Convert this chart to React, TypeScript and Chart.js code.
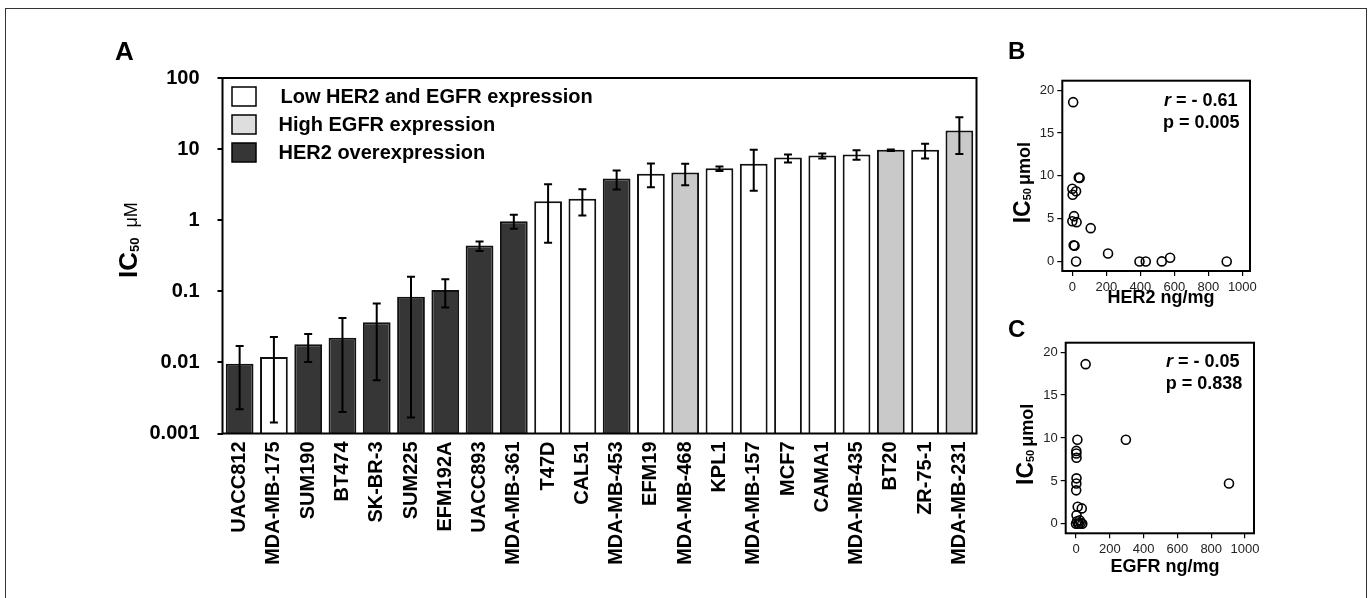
import React, { useEffect, useRef } from "react";
import { Chart, registerables } from "chart.js";
Chart.register(...registerables);

const FONT = "'Liberation Sans', Arial, Helvetica, sans-serif";

// ---------- Panel A data ----------
const CELL_LINES = [
  "UACC812", "MDA-MB-175", "SUM190", "BT474", "SK-BR-3", "SUM225", "EFM192A",
  "UACC893", "MDA-MB-361", "T47D", "CAL51", "MDA-MB-453", "EFM19", "MDA-MB-468",
  "KPL1", "MDA-MB-157", "MCF7", "CAMA1", "MDA-MB-435", "BT20", "ZR-75-1", "MDA-MB-231",
];
const GROUPS = [
  "her2", "low", "her2", "her2", "her2", "her2", "her2",
  "her2", "her2", "low", "low", "her2", "low", "egfr",
  "low", "low", "low", "low", "low", "egfr", "low", "egfr",
];
const IC50 = [
  0.0096, 0.0119, 0.018, 0.0223, 0.0366, 0.084, 0.104, 0.44, 0.97, 1.85, 2.0,
  3.85, 4.5, 4.68, 5.4, 6.2, 7.6, 8.1, 8.4, 9.8, 9.8, 18.2,
];
const ERR_HI = [
  0.017, 0.0228, 0.025, 0.042, 0.0676, 0.16, 0.148, 0.5, 1.19, 3.2, 2.73,
  5.0, 6.25, 6.2, 5.7, 9.8, 8.4, 8.65, 9.6, 9.9, 11.9, 28,
];
const ERR_LO = [
  0.0022, 0.00143, 0.0101, 0.002, 0.0056, 0.00168, 0.059, 0.37, 0.76, 0.48, 1.16,
  2.7, 2.9, 3.1, 4.94, 2.6, 6.5, 7.4, 7.1, 9.4, 7.4, 8.5,
];
const LOG_TICKS = [0.001, 0.01, 0.1, 1, 10, 100];
const LOG_TICK_LABELS = ["0.001", "0.01", "0.1", "1", "10", "100"];
const LEGEND_GROUPS = ["low", "egfr", "her2"];
const LEGEND_LABELS = ["Low HER2 and EGFR expression", "High EGFR expression", "HER2 overexpression"];
const GROUP_FILL: Record<string, string> = { low: "#ffffff", egfr: "#c9c9c9", her2: "#363636" };
const LEGEND_FILL: Record<string, string> = { low: "#ffffff", egfr: "#dedede", her2: "#363636" };

// ---------- Panel B data (HER2 vs IC50) ----------
const HER2_X = [5, 0, 2, 22, 38, 43, 10, 0, 25, 108, 8, 13, 22, 210, 395, 432, 526, 575, 908];
const HER2_Y = [18.6, 8.5, 7.8, 8.2, 9.8, 9.75, 5.3, 4.7, 4.6, 3.9, 1.9, 1.85, 0.0, 0.95, 0.01, 0.01, 0.02, 0.44, 0.01];
const STATS_B = { r: "- 0.61", p: "0.005" };

// ---------- Panel C data (EGFR vs IC50) ----------
const EGFR_X = [57, 8, 295, 2, 2, 3, 3, 2, 1, 905, 10, 34, 3, 0, 6, 16, 22, 37, 28, 12];
const EGFR_Y = [18.6, 9.8, 9.8, 8.5, 8.2, 7.7, 5.3, 4.7, 3.9, 4.7, 2.0, 1.8, 1.0, 0.01, 0.3, 0.05, 0.4, 0.02, 0.1, 0.02];
const STATS_C = { r: "- 0.05", p: "0.838" };

const SCATTER_X_TICKS = [0, 200, 400, 600, 800, 1000];
const SCATTER_Y_TICKS = [0, 5, 10, 15, 20];

type Part = { text: string; font: string; dy?: number; gap?: number };

function drawRotated(ctx: CanvasRenderingContext2D, x: number, y: number, parts: Part[]) {
  ctx.save();
  ctx.translate(x, y);
  ctx.rotate(-Math.PI / 2);
  ctx.fillStyle = "#000";
  ctx.textAlign = "left";
  ctx.textBaseline = "alphabetic";
  let cur = 0;
  for (const p of parts) {
    cur += p.gap || 0;
    ctx.font = p.font;
    ctx.fillText(p.text, cur, p.dy || 0);
    cur += ctx.measureText(p.text).width;
  }
  ctx.restore();
}

function PanelA() {
  const ref = useRef<HTMLCanvasElement>(null);
  useEffect(() => {
    const plugin = {
      id: "panelA",
      afterDatasetsDraw(chart: any) {
        const { ctx } = chart;
        const meta = chart.getDatasetMeta(0);
        const ys = chart.scales.y;
        ctx.save();
        ctx.strokeStyle = "#000";
        ctx.lineWidth = 2;
        meta.data.forEach((bar: any, i: number) => {
          const x = bar.x;
          const yh = ys.getPixelForValue(ERR_HI[i]);
          const yl = ys.getPixelForValue(ERR_LO[i]);
          ctx.beginPath();
          ctx.moveTo(x, yh);
          ctx.lineTo(x, yl);
          ctx.moveTo(x - 4, yh);
          ctx.lineTo(x + 4, yh);
          ctx.moveTo(x - 4, yl);
          ctx.lineTo(x + 4, yl);
          ctx.stroke();
        });
        ctx.restore();
      },
      afterDraw(chart: any) {
        const { ctx, chartArea } = chart;
        const { left, top, right, bottom } = chartArea;
        ctx.save();
        ctx.strokeStyle = "#000";
        ctx.lineWidth = 2;
        ctx.strokeRect(left, top, right - left, bottom - top);
        // legend
        LEGEND_GROUPS.forEach((g, i) => {
          const by = top + 9 + i * 28;
          ctx.fillStyle = LEGEND_FILL[g];
          ctx.fillRect(left + 9.5, by, 24, 19);
          ctx.lineWidth = 1.5;
          ctx.strokeStyle = "#000";
          ctx.strokeRect(left + 9.5, by, 24, 19);
          ctx.fillStyle = "#000";
          ctx.font = `bold 20px ${FONT}`;
          ctx.textBaseline = "middle";
          ctx.textAlign = "left";
          ctx.fillText(LEGEND_LABELS[i], left + (i === 0 ? 58 : 56), by + 10.5);
        });
        // panel letter
        ctx.font = `bold 26px ${FONT}`;
        ctx.textBaseline = "alphabetic";
        ctx.fillText("A", 115, 60);
        ctx.restore();
        // y title
        drawRotated(ctx, 137, 278, [
          { text: "IC", font: `bold 26px ${FONT}` },
          { text: "50", font: `bold 13px ${FONT}`, dy: 2 },
          { text: "\u03bcM", font: `18px ${FONT}`, gap: 10 },
        ]);
      },
    };
    const chart = new Chart(ref.current!, {
      type: "bar",
      data: {
        labels: CELL_LINES,
        datasets: [
          {
            data: IC50,
            backgroundColor: GROUPS.map((g) => GROUP_FILL[g]),
            borderColor: "#111",
            borderWidth: 2,
            barPercentage: 0.9,
            categoryPercentage: 0.9,
          },
        ],
      },
      options: {
        responsive: false,
        animation: false,
        layout: { padding: { top: 78, right: 23.5, bottom: 14.5, left: 0 } },
        plugins: { legend: { display: false }, tooltip: { enabled: false } },
        scales: {
          x: {
            type: "category",
            grid: { display: false, drawTicks: false },
            border: { display: false },
            ticks: {
              minRotation: 90,
              maxRotation: 90,
              autoSkip: false,
              padding: 8,
              color: "#000",
              font: { family: FONT, size: 20, weight: "bold" },
            },
            afterFit: (s: any) => {
              s.height = 150;
            },
          },
          y: {
            type: "logarithmic",
            min: 0.001,
            max: 100,
            border: { display: false },
            grid: { display: true, drawOnChartArea: false, drawTicks: true, tickLength: 5, color: "#000", lineWidth: 2 },
            ticks: {
              padding: 18,
              color: "#000",
              font: { family: FONT, size: 20, weight: "bold" },
              callback: (v: any) => {
                const idx = LOG_TICKS.findIndex((t) => Math.abs(Math.log10(t) - Math.log10(v)) < 1e-6);
                return idx >= 0 ? LOG_TICK_LABELS[idx] : "";
              },
            },
            afterBuildTicks: (s: any) => {
              s.ticks = LOG_TICKS.map((v) => ({ value: v }));
            },
            afterFit: (s: any) => {
              s.width = 222.5;
            },
          },
        },
      } as any,
      plugins: [plugin],
    });
    return () => chart.destroy();
  }, []);
  return (
    <canvas
      ref={ref}
      width={1000}
      height={598}
      style={{ position: "absolute", left: 0, top: 0, width: 1000, height: 598 }}
    />
  );
}

type ScatterProps = {
  left: number;
  top: number;
  width: number;
  height: number;
  xs: number[];
  ys: number[];
  xMin: number;
  xMax: number;
  letter: string;
  xTitle: string;
  stats: { r: string; p: string };
  pad: { top: number; right: number; bottom: number };
  yAxisW: number;
  letterPos: [number, number];
  yTitlePos: [number, number];
  xTitlePos: [number, number];
  rPos: [number, number];
  pPos: [number, number];
  xTickPad: number;
};

function Scatter(props: ScatterProps) {
  const ref = useRef<HTMLCanvasElement>(null);
  useEffect(() => {
    const plugin = {
      id: "scatterDeco",
      afterDraw(chart: any) {
        const { ctx, chartArea } = chart;
        const { left, top, right, bottom } = chartArea;
        ctx.save();
        ctx.strokeStyle = "#000";
        ctx.lineWidth = 2;
        ctx.strokeRect(left, top, right - left, bottom - top);
        ctx.fillStyle = "#000";
        ctx.textAlign = "left";
        ctx.textBaseline = "alphabetic";
        ctx.font = `bold 24px ${FONT}`;
        ctx.fillText(props.letter, props.letterPos[0], props.letterPos[1]);
        // stats
        ctx.textBaseline = "middle";
        ctx.font = `italic bold 18px ${FONT}`;
        ctx.fillText("r", props.rPos[0], props.rPos[1]);
        const rw = ctx.measureText("r").width;
        ctx.font = `bold 18px ${FONT}`;
        ctx.fillText(" = " + props.stats.r, props.rPos[0] + rw, props.rPos[1]);
        ctx.fillText("p = " + props.stats.p, props.pPos[0], props.pPos[1]);
        // x title
        ctx.textAlign = "center";
        ctx.textBaseline = "alphabetic";
        ctx.font = `bold 18px ${FONT}`;
        ctx.fillText(props.xTitle, props.xTitlePos[0], props.xTitlePos[1]);
        ctx.restore();
        drawRotated(ctx, props.yTitlePos[0], props.yTitlePos[1], [
          { text: "IC", font: `bold 23px ${FONT}` },
          { text: "50", font: `bold 11px ${FONT}`, dy: 1 },
          { text: "\u03bcmol", font: `bold 18px ${FONT}`, gap: 3 },
        ]);
      },
    };
    const chart = new Chart(ref.current!, {
      type: "scatter",
      data: {
        datasets: [
          {
            data: props.xs.map((x, i) => ({ x, y: props.ys[i] })),
            pointStyle: "circle",
            pointRadius: 4.5,
            pointBorderWidth: 1.6,
            borderColor: "#000",
            backgroundColor: "rgba(0,0,0,0)",
          },
        ],
      },
      options: {
        responsive: false,
        animation: false,
        layout: { padding: { top: props.pad.top, right: props.pad.right, bottom: props.pad.bottom, left: 0 } },
        plugins: { legend: { display: false }, tooltip: { enabled: false } },
        scales: {
          x: {
            type: "linear",
            min: props.xMin,
            max: props.xMax,
            border: { display: false },
            grid: { display: true, drawOnChartArea: false, drawTicks: true, tickLength: 5, color: "#000", lineWidth: 1.2 },
            ticks: {
              padding: props.xTickPad,
              color: "#222",
              minRotation: 0,
              maxRotation: 0,
              autoSkip: false,
              font: { family: FONT, size: 13 },
              callback: (v: any) => String(v),
            },
            afterBuildTicks: (s: any) => {
              s.ticks = SCATTER_X_TICKS.map((v) => ({ value: v }));
            },
            afterFit: (s: any) => {
              s.height = 40;
            },
          },
          y: {
            type: "linear",
            min: -1.1,
            max: 21.1,
            border: { display: false },
            grid: { display: true, drawOnChartArea: false, drawTicks: true, tickLength: 5, color: "#000", lineWidth: 1.2 },
            ticks: { padding: 3, color: "#222", font: { family: FONT, size: 13 }, callback: (v: any) => String(v) },
            afterBuildTicks: (s: any) => {
              s.ticks = SCATTER_Y_TICKS.map((v) => ({ value: v }));
            },
            afterFit: (s: any) => {
              s.width = props.yAxisW;
            },
          },
        },
      } as any,
      plugins: [plugin],
    });
    return () => chart.destroy();
  }, []);
  return (
    <canvas
      ref={ref}
      width={props.width}
      height={props.height}
      style={{ position: "absolute", left: props.left, top: props.top, width: props.width, height: props.height }}
    />
  );
}

export default function App() {
  return (
    <div
      style={{
        position: "absolute",
        left: 0,
        top: 0,
        width: 1369,
        height: 598,
        overflow: "hidden",
        background: "#fff",
      }}
    >
      <div
        style={{
          position: "absolute",
          left: 5,
          top: 8,
          width: 1360,
          height: 620,
          border: "1.5px solid #333",
        }}
      />
      <PanelA />
      <Scatter
        left={990}
        top={20}
        width={310}
        height={300}
        xs={HER2_X}
        ys={HER2_Y}
        xMin={-59}
        xMax={1045}
        letter="B"
        xTitle="HER2 ng/mg"
        stats={STATS_B}
        pad={{ top: 60.7, right: 50, bottom: 9 }}
        yAxisW={72.3}
        letterPos={[18, 39]}
        yTitlePos={[40, 203.3]}
        xTitlePos={[171, 283.3]}
        rPos={[174, 80.7]}
        pPos={[173, 103.3]}
        xTickPad={4}
      />
      <Scatter
        left={990}
        top={300}
        width={310}
        height={298}
        xs={EGFR_X}
        ys={EGFR_Y}
        xMin={-61}
        xMax={1053}
        letter="C"
        xTitle="EGFR ng/mg"
        stats={STATS_C}
        pad={{ top: 42.7, right: 46, bottom: 24.7 }}
        yAxisW={75.7}
        letterPos={[18, 37]}
        yTitlePos={[43.3, 185]}
        xTitlePos={[175, 271.7]}
        rPos={[176, 62]}
        pPos={[175.7, 84]}
        xTickPad={3}
      />
    </div>
  );
}
